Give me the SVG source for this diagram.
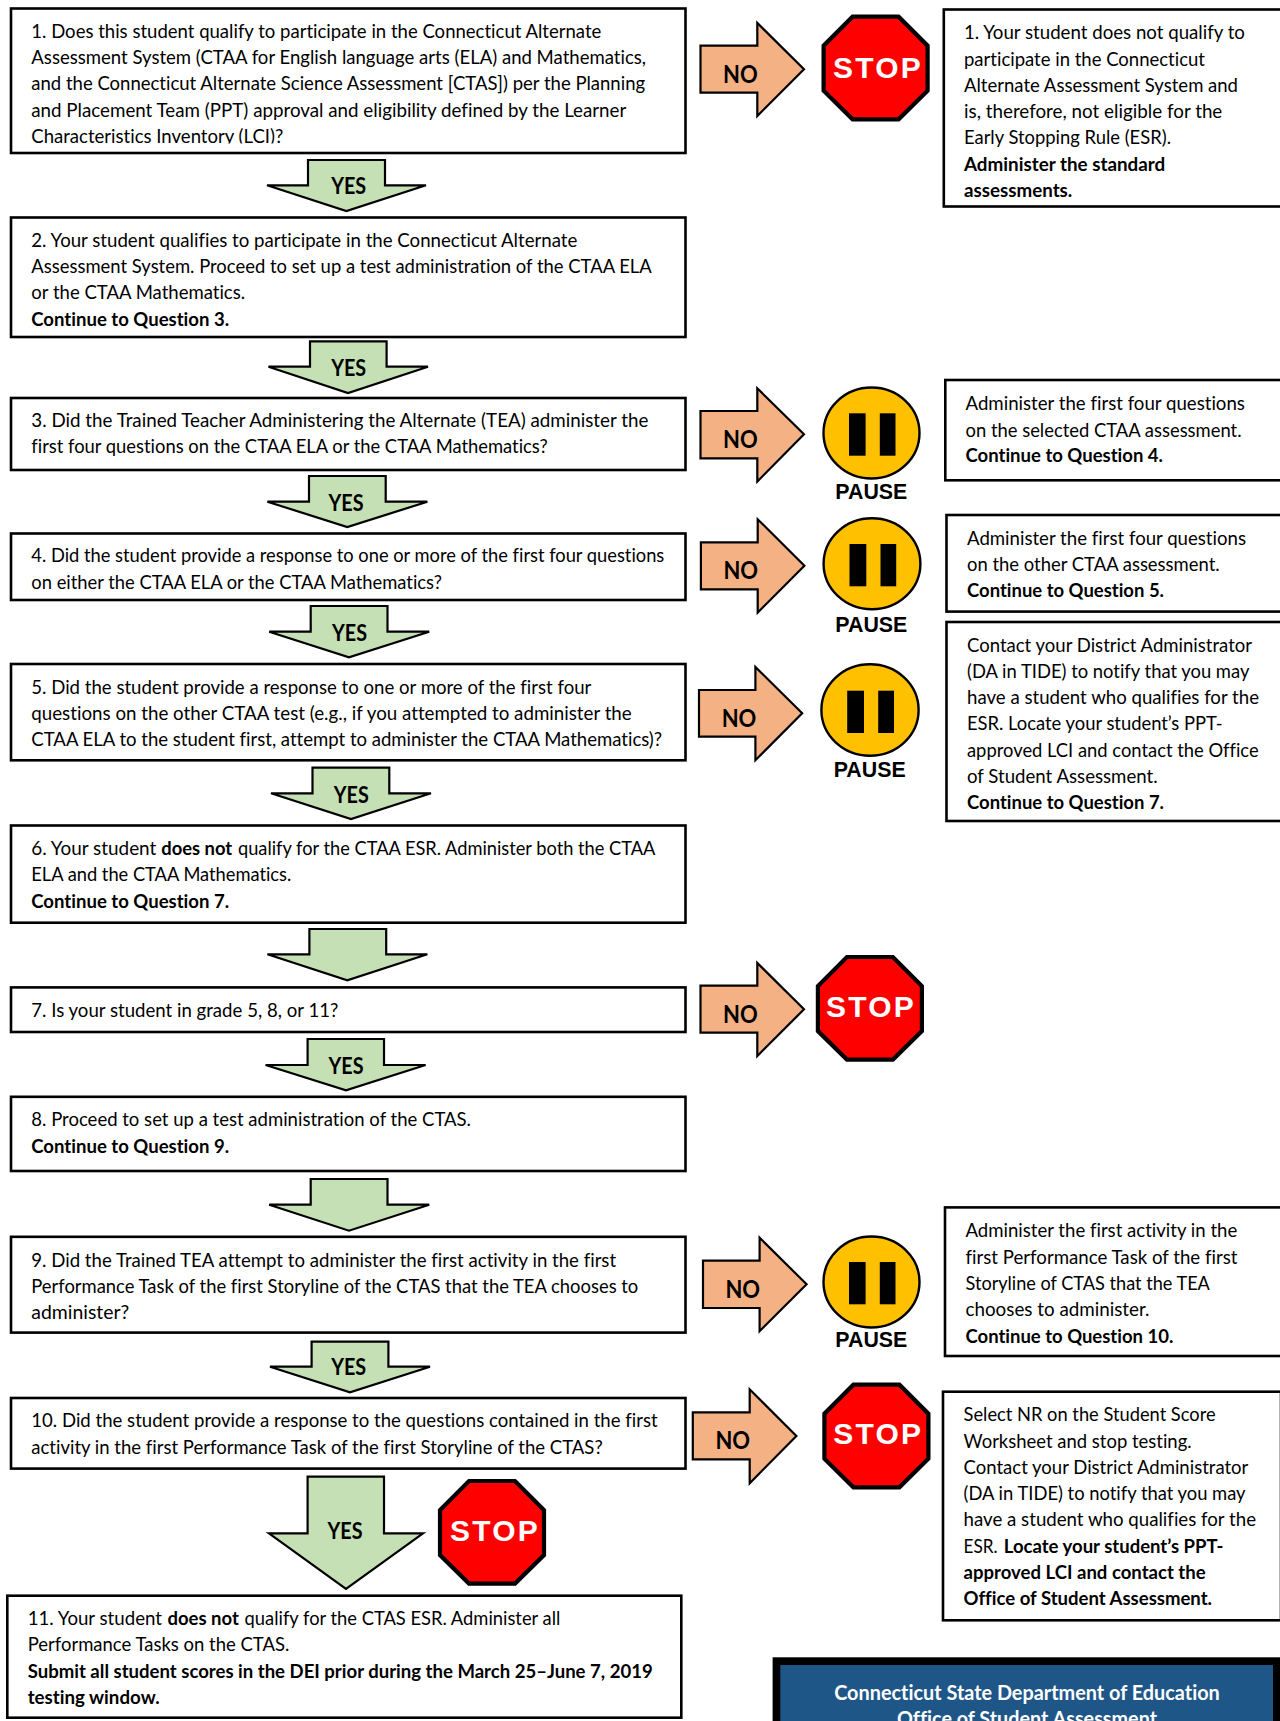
<svg xmlns="http://www.w3.org/2000/svg" width="1280" height="1721" viewBox="0 0 1280 1721">
<style>
text{font-family:"Lato","Open Sans","Liberation Sans",sans-serif;fill:#000;font-variant-ligatures:none}
.t{font-size:19.8px}
.b{font-size:19.8px;font-weight:700}
.bt{font-weight:700}
.box{fill:#fff;stroke:#000;stroke-width:2.6}
.yes-a{fill:#C5E0B4;stroke:#000;stroke-width:2.2}
.no-a{fill:#F4B183;stroke:#000;stroke-width:2.2}
.yes{font-size:22.5px;font-weight:700;text-anchor:middle}
.no{font-size:25px;font-weight:700;text-anchor:middle}
.oct{fill:#F00;stroke:#000;stroke-width:4.2}
.stop{font-family:"Liberation Sans",Arial,sans-serif;font-size:30px;font-weight:700;fill:#fff;letter-spacing:2.2px}
.circ{fill:#FFC000;stroke:#000;stroke-width:2.4}
.pause{font-family:"Liberation Sans",Arial,sans-serif;font-size:22px;font-weight:700;text-anchor:middle}
.hd{font-size:20.5px;font-weight:700;fill:#fff;text-anchor:middle}
</style>
<defs>
<polygon id="octagon" points="31,2 77,2 106,31 106,76 77,104.6 31,104.6 2,76 2,31"/>
<clipPath id="cut"><rect x="20" y="125" width="600" height="18.6"/></clipPath>
</defs>
<g id="connectors">
<g id="yes-arrow-1"><polygon class="yes-a" points="308,160 385,160 385,185.3 426,185.3 346.4,211 267,185.3 308,185.3"/><text class="yes" x="348.7" y="194.3" textLength="35" lengthAdjust="spacingAndGlyphs">YES</text></g>
<g id="yes-arrow-2"><polygon class="yes-a" points="310,341.3 386.6,341.3 386.6,366.7 428,366.7 348,393 268.5,366.7 310,366.7"/><text class="yes" x="348.7" y="376.3" textLength="35" lengthAdjust="spacingAndGlyphs">YES</text></g>
<g id="yes-arrow-3"><polygon class="yes-a" points="309,476 385.7,476 385.7,501.7 427.4,501.7 347.3,527 267.4,501.7 309,501.7"/><text class="yes" x="346" y="510.5" textLength="35" lengthAdjust="spacingAndGlyphs">YES</text></g>
<g id="yes-arrow-4"><polygon class="yes-a" points="310.7,606 387.5,606 387.5,631.7 429.2,631.7 349,657.3 269.2,631.7 310.7,631.7"/><text class="yes" x="349.5" y="640.8" textLength="35" lengthAdjust="spacingAndGlyphs">YES</text></g>
<g id="yes-arrow-5"><polygon class="yes-a" points="312.5,767.7 389.3,767.7 389.3,793.3 431,793.3 351,819 271,793.3 312.5,793.3"/><text class="yes" x="351.3" y="802.5" textLength="35" lengthAdjust="spacingAndGlyphs">YES</text></g>
<g id="arrow-6"><polygon class="yes-a" points="309.4,929 386.2,929 386.2,954.3 427.4,954.3 347.3,980.4 267.4,954.3 309.4,954.3"/></g>
<g id="yes-arrow-7"><polygon class="yes-a" points="307.6,1039 384,1039 384,1065 425.6,1065 346,1090.4 265.6,1065 307.6,1065"/><text class="yes" x="346" y="1073.5" textLength="35" lengthAdjust="spacingAndGlyphs">YES</text></g>
<g id="arrow-8"><polygon class="yes-a" points="310.7,1179 387.5,1179 387.5,1204.7 429.2,1204.7 349,1230.7 269.2,1204.7 310.7,1204.7"/></g>
<g id="yes-arrow-9"><polygon class="yes-a" points="311.6,1341.7 388.4,1341.7 388.4,1366.7 430,1366.7 350,1392.4 270,1366.7 311.6,1366.7"/><text class="yes" x="348.7" y="1375" textLength="35" lengthAdjust="spacingAndGlyphs">YES</text></g>
<g id="yes-arrow-10"><polygon class="yes-a" points="307.6,1476.7 384,1476.7 384,1533.3 423,1533.3 346,1589 269,1533.3 307.6,1533.3"/><text class="yes" x="345" y="1539.3" textLength="35" lengthAdjust="spacingAndGlyphs">YES</text></g>
<g id="no-arrow-1"><polygon class="no-a" points="700.5,45.7 757.3,45.7 757.3,23 804,69.3 757.3,116 757.3,92.7 700.5,92.7"/><text class="no" x="740.4" y="82.5" textLength="34.7" lengthAdjust="spacingAndGlyphs">NO</text></g>
<g id="no-arrow-3"><polygon class="no-a" points="700.5,411 757.3,411 757.3,388.3 804,434.3 757.3,481.5 757.3,458.3 700.5,458.3"/><text class="no" x="740.4" y="447.5" textLength="34.7" lengthAdjust="spacingAndGlyphs">NO</text></g>
<g id="no-arrow-4"><polygon class="no-a" points="700.9,542.3 757.7,542.3 757.7,519.3 804.4,565.7 757.7,612.5 757.7,589.3 700.9,589.3"/><text class="no" x="740.8" y="579.1" textLength="34.7" lengthAdjust="spacingAndGlyphs">NO</text></g>
<g id="no-arrow-5"><polygon class="no-a" points="699,690 755.4,690 755.4,667 802.2,713.3 755.4,760.2 755.4,736.7 699,736.7"/><text class="no" x="739" y="726.8" textLength="34.7" lengthAdjust="spacingAndGlyphs">NO</text></g>
<g id="no-arrow-7"><polygon class="no-a" points="700.5,985.7 757.3,985.7 757.3,963 804,1009.3 757.3,1056 757.3,1032.7 700.5,1032.7"/><text class="no" x="740.4" y="1022.5" textLength="34.7" lengthAdjust="spacingAndGlyphs">NO</text></g>
<g id="no-arrow-9"><polygon class="no-a" points="703,1260.7 759.6,1260.7 759.6,1237.7 806.6,1284.3 759.6,1331.2 759.6,1308 703,1308"/><text class="no" x="742.8" y="1297.5" textLength="34.7" lengthAdjust="spacingAndGlyphs">NO</text></g>
<g id="no-arrow-10"><polygon class="no-a" points="692.8,1412.3 749.7,1412.3 749.7,1389.3 796.4,1436 749.7,1483.2 749.7,1459.3 692.8,1459.3"/><text class="no" x="732.8" y="1449.1" textLength="34.7" lengthAdjust="spacingAndGlyphs">NO</text></g>
</g>
<g id="q1"><rect class="box" x="11" y="8.5" width="674.5" height="144.5"/>
<text class="t" x="31.3" y="37.7" textLength="570" lengthAdjust="spacingAndGlyphs">1. Does this student qualify to participate in the Connecticut Alternate</text>
<text class="t" x="31.3" y="63.5" textLength="614.7" lengthAdjust="spacingAndGlyphs">Assessment System (CTAA for English language arts (ELA) and Mathematics,</text>
<text class="t" x="31.3" y="90" textLength="613.8" lengthAdjust="spacingAndGlyphs">and the Connecticut Alternate Science Assessment [CTAS]) per the Planning</text>
<text class="t" x="31.3" y="116.6" textLength="595" lengthAdjust="spacingAndGlyphs">and Placement Team (PPT) approval and eligibility defined by the Learner</text>
<g clip-path="url(#cut)"><text class="t" x="31.3" y="142.6" textLength="252" lengthAdjust="spacingAndGlyphs">Characteristics Inventory (LCI)?</text></g></g>
<g id="q2"><rect class="box" x="11" y="217.5" width="674.5" height="119.5"/>
<text class="t" x="31.3" y="246.7" textLength="546" lengthAdjust="spacingAndGlyphs">2. Your student qualifies to participate in the Connecticut Alternate</text>
<text class="t" x="31.3" y="272.7" textLength="620.5" lengthAdjust="spacingAndGlyphs">Assessment System. Proceed to set up a test administration of the CTAA ELA</text>
<text class="t" x="31.3" y="299.3" textLength="213.8" lengthAdjust="spacingAndGlyphs">or the CTAA Mathematics.</text>
<text class="b" x="31.3" y="325.7" textLength="197.8" lengthAdjust="spacingAndGlyphs">Continue to Question 3.</text></g>
<g id="q3"><rect class="box" x="11" y="398" width="674.5" height="72"/>
<text class="t" x="31.3" y="426.7" textLength="617" lengthAdjust="spacingAndGlyphs">3. Did the Trained Teacher Administering the Alternate (TEA) administer the</text>
<text class="t" x="31.3" y="453.3" textLength="516.5" lengthAdjust="spacingAndGlyphs">first four questions on the CTAA ELA or the CTAA Mathematics?</text></g>
<g id="q4"><rect class="box" x="11" y="533.5" width="674.5" height="66.5"/>
<text class="t" x="31.3" y="562" textLength="633" lengthAdjust="spacingAndGlyphs">4. Did the student provide a response to one or more of the first four questions</text>
<text class="t" x="31.3" y="588.7" textLength="410.7" lengthAdjust="spacingAndGlyphs">on either the CTAA ELA or the CTAA Mathematics?</text></g>
<g id="q5"><rect class="box" x="11" y="664" width="674.5" height="96.3"/>
<text class="t" x="31.3" y="694" textLength="560" lengthAdjust="spacingAndGlyphs">5. Did the student provide a response to one or more of the first four</text>
<text class="t" x="31.3" y="720" textLength="600.4" lengthAdjust="spacingAndGlyphs">questions on the other CTAA test (e.g., if you attempted to administer the</text>
<text class="t" x="31.3" y="746" textLength="630.8" lengthAdjust="spacingAndGlyphs">CTAA ELA to the student first, attempt to administer the CTAA Mathematics)?</text></g>
<g id="q6"><rect class="box" x="11" y="825.5" width="674.5" height="97.2"/>
<text class="t" y="855"><tspan x="31.3" textLength="125" lengthAdjust="spacingAndGlyphs">6. Your student</tspan> <tspan class="bt" x="161.2" textLength="71" lengthAdjust="spacingAndGlyphs">does not</tspan> <tspan x="238" textLength="417.4" lengthAdjust="spacingAndGlyphs">qualify for the CTAA ESR. Administer both the CTAA</tspan></text>
<text class="t" x="31.3" y="880.7" textLength="260" lengthAdjust="spacingAndGlyphs">ELA and the CTAA Mathematics.</text>
<text class="b" x="31.3" y="907.7" textLength="197.8" lengthAdjust="spacingAndGlyphs">Continue to Question 7.</text></g>
<g id="q7"><rect class="box" x="11" y="987.4" width="674.5" height="44.6"/>
<text class="t" x="31.3" y="1016.7" textLength="307" lengthAdjust="spacingAndGlyphs">7. Is your student in grade 5, 8, or 11?</text></g>
<g id="q8"><rect class="box" x="11" y="1096.8" width="674.5" height="74.2"/>
<text class="t" x="31.3" y="1126" textLength="439.7" lengthAdjust="spacingAndGlyphs">8. Proceed to set up a test administration of the CTAS.</text>
<text class="b" x="31.3" y="1152.7" textLength="197.8" lengthAdjust="spacingAndGlyphs">Continue to Question 9.</text></g>
<g id="q9"><rect class="box" x="11" y="1236.8" width="674.5" height="95.8"/>
<text class="t" x="31.3" y="1266.7" textLength="584.8" lengthAdjust="spacingAndGlyphs">9. Did the Trained TEA attempt to administer the first activity in the first</text>
<text class="t" x="31.3" y="1292.7" textLength="607" lengthAdjust="spacingAndGlyphs">Performance Task of the first Storyline of the CTAS that the TEA chooses to</text>
<text class="t" x="31.3" y="1318.7" textLength="98" lengthAdjust="spacingAndGlyphs">administer?</text></g>
<g id="q10"><rect class="box" x="11" y="1398" width="674.5" height="70.6"/>
<text class="t" x="31.3" y="1427.3" textLength="626.3" lengthAdjust="spacingAndGlyphs">10. Did the student provide a response to the questions contained in the first</text>
<text class="t" x="31.3" y="1454" textLength="571.4" lengthAdjust="spacingAndGlyphs">activity in the first Performance Task of the first Storyline of the CTAS?</text></g>
<g id="q11"><rect class="box" x="7.3" y="1595.7" width="674" height="122"/>
<text class="t" y="1625"><tspan x="27.7" textLength="134.3" lengthAdjust="spacingAndGlyphs">11. Your student</tspan> <tspan class="bt" x="167.4" textLength="71.4" lengthAdjust="spacingAndGlyphs">does not</tspan> <tspan x="244.6" textLength="315.7" lengthAdjust="spacingAndGlyphs">qualify for the CTAS ESR. Administer all</tspan></text>
<text class="t" x="27.7" y="1651" textLength="261.6" lengthAdjust="spacingAndGlyphs">Performance Tasks on the CTAS.</text>
<text class="b" x="27.7" y="1677.7" textLength="625" lengthAdjust="spacingAndGlyphs">Submit all student scores in the DEI prior during the March 25–June 7, 2019</text>
<text class="b" x="27.7" y="1704" textLength="132" lengthAdjust="spacingAndGlyphs">testing window.</text></g>
<g id="r1"><rect class="box" x="943.8" y="9.5" width="338" height="197"/>
<text class="t" x="964" y="39.3" textLength="280.9" lengthAdjust="spacingAndGlyphs">1. Your student does not qualify to</text>
<text class="t" x="964" y="65.7" textLength="241" lengthAdjust="spacingAndGlyphs">participate in the Connecticut</text>
<text class="t" x="964" y="91.7" textLength="274" lengthAdjust="spacingAndGlyphs">Alternate Assessment System and</text>
<text class="t" x="964" y="118.3" textLength="258.3" lengthAdjust="spacingAndGlyphs">is, therefore, not eligible for the</text>
<text class="t" x="964" y="144.3" textLength="207" lengthAdjust="spacingAndGlyphs">Early Stopping Rule (ESR).</text>
<text class="b" x="964" y="170.7" textLength="201.3" lengthAdjust="spacingAndGlyphs">Administer the standard</text>
<text class="b" x="964" y="197.3" textLength="108.3" lengthAdjust="spacingAndGlyphs">assessments.</text></g>
<g id="r3"><rect class="box" x="945.3" y="380" width="338" height="100.3"/>
<text class="t" x="965.5" y="410" textLength="279.4" lengthAdjust="spacingAndGlyphs">Administer the first four questions</text>
<text class="t" x="965.5" y="436.7" textLength="276" lengthAdjust="spacingAndGlyphs">on the selected CTAA assessment.</text>
<text class="b" x="965.5" y="462.3" textLength="197.5" lengthAdjust="spacingAndGlyphs">Continue to Question 4.</text></g>
<g id="r4"><rect class="box" x="946.5" y="515" width="338" height="96.6"/>
<text class="t" x="967" y="545" textLength="279" lengthAdjust="spacingAndGlyphs">Administer the first four questions</text>
<text class="t" x="967" y="571.3" textLength="252.6" lengthAdjust="spacingAndGlyphs">on the other CTAA assessment.</text>
<text class="b" x="967" y="597.3" textLength="197" lengthAdjust="spacingAndGlyphs">Continue to Question 5.</text></g>
<g id="r5"><rect class="box" x="946.5" y="622" width="338" height="199"/>
<text class="t" x="967" y="651.7" textLength="285" lengthAdjust="spacingAndGlyphs">Contact your District Administrator</text>
<text class="t" x="967" y="678.3" textLength="282.4" lengthAdjust="spacingAndGlyphs">(DA in TIDE) to notify that you may</text>
<text class="t" x="967" y="704" textLength="292" lengthAdjust="spacingAndGlyphs">have a student who qualifies for the</text>
<text class="t" x="967" y="730" textLength="255.6" lengthAdjust="spacingAndGlyphs">ESR. Locate your student’s PPT-</text>
<text class="t" x="967" y="757.3" textLength="291.6" lengthAdjust="spacingAndGlyphs">approved LCI and contact the Office</text>
<text class="t" x="967" y="783.3" textLength="190.6" lengthAdjust="spacingAndGlyphs">of Student Assessment.</text>
<text class="b" x="967" y="809.3" textLength="197" lengthAdjust="spacingAndGlyphs">Continue to Question 7.</text></g>
<g id="r9"><rect class="box" x="945" y="1207.4" width="338" height="148.6"/>
<text class="t" x="965.5" y="1237.3" textLength="271.7" lengthAdjust="spacingAndGlyphs">Administer the first activity in the</text>
<text class="t" x="965.5" y="1264" textLength="272" lengthAdjust="spacingAndGlyphs">first Performance Task of the first</text>
<text class="t" x="965.5" y="1290" textLength="244.4" lengthAdjust="spacingAndGlyphs">Storyline of CTAS that the TEA</text>
<text class="t" x="965.5" y="1316" textLength="184" lengthAdjust="spacingAndGlyphs">chooses to administer.</text>
<text class="b" x="965.5" y="1342.7" textLength="207.8" lengthAdjust="spacingAndGlyphs">Continue to Question 10.</text></g>
<g id="r10"><rect class="box" x="943" y="1391.7" width="338" height="228.6"/>
<text class="t" x="963.6" y="1421" textLength="252" lengthAdjust="spacingAndGlyphs">Select NR on the Student Score</text>
<text class="t" x="963.6" y="1447.7" textLength="228" lengthAdjust="spacingAndGlyphs">Worksheet and stop testing.</text>
<text class="t" x="963.6" y="1474" textLength="284.7" lengthAdjust="spacingAndGlyphs">Contact your District Administrator</text>
<text class="t" x="963.6" y="1500" textLength="282" lengthAdjust="spacingAndGlyphs">(DA in TIDE) to notify that you may</text>
<text class="t" x="963.6" y="1526" textLength="292.4" lengthAdjust="spacingAndGlyphs">have a student who qualifies for the</text>
<text class="t" y="1552.7"><tspan x="963.6" textLength="34" lengthAdjust="spacingAndGlyphs">ESR.</tspan> <tspan class="bt" x="1003.8" textLength="219.6" lengthAdjust="spacingAndGlyphs">Locate your student’s PPT-</tspan></text>
<text class="b" x="963.6" y="1579" textLength="242" lengthAdjust="spacingAndGlyphs">approved LCI and contact the</text>
<text class="b" x="963.6" y="1605" textLength="248.4" lengthAdjust="spacingAndGlyphs">Office of Student Assessment.</text></g>
<g id="stop-1"><use href="#octagon" class="oct" x="821.6" y="14.7"/><text class="stop" x="833" y="77.5">STOP</text></g>
<g id="stop-7"><use href="#octagon" class="oct" x="815.9" y="955"/><text class="stop" x="826" y="1016.9">STOP</text></g>
<g id="stop-10"><use href="#octagon" class="oct" x="822.4" y="1382.7"/><text class="stop" x="833.2" y="1443.5">STOP</text></g>
<g id="stop-11"><use href="#octagon" class="oct" x="438" y="1479"/><text class="stop" x="450" y="1540.9">STOP</text></g>
<g id="pause-3"><ellipse class="circ" cx="871.5" cy="433" rx="48" ry="45.5"/><rect x="849" y="413.3" width="16.6" height="42.4"/><rect x="879.8" y="413.3" width="15.7" height="42.4"/><text class="pause" x="871.3" y="499.3" textLength="72" lengthAdjust="spacingAndGlyphs">PAUSE</text></g>
<g id="pause-4"><ellipse class="circ" cx="872" cy="563.7" rx="48.4" ry="45.5"/><rect x="849.5" y="544" width="16.8" height="42.3"/><rect x="880.5" y="544" width="15.7" height="42.3"/><text class="pause" x="871.3" y="631.7" textLength="72" lengthAdjust="spacingAndGlyphs">PAUSE</text></g>
<g id="pause-5"><ellipse class="circ" cx="870" cy="710" rx="48.6" ry="45.7"/><rect x="847.2" y="690.7" width="16.8" height="42.3"/><rect x="878.2" y="690.7" width="15.8" height="42.3"/><text class="pause" x="869.7" y="777.3" textLength="72" lengthAdjust="spacingAndGlyphs">PAUSE</text></g>
<g id="pause-9"><ellipse class="circ" cx="871.5" cy="1282" rx="48" ry="45.5"/><rect x="849" y="1262" width="16.6" height="42.3"/><rect x="879.8" y="1262" width="15.7" height="42.3"/><text class="pause" x="871.3" y="1347.3" textLength="72" lengthAdjust="spacingAndGlyphs">PAUSE</text></g>
<g id="contact"><rect x="772.6" y="1657.3" width="507.4" height="64" fill="#000"/><rect x="780.3" y="1665" width="492.7" height="56" fill="#1F5688"/>
<text class="hd" x="1027" y="1700" textLength="385.6" lengthAdjust="spacingAndGlyphs">Connecticut State Department of Education</text>
<text class="hd" x="1027" y="1726" textLength="260" lengthAdjust="spacingAndGlyphs">Office of Student Assessment</text></g>
</svg>
